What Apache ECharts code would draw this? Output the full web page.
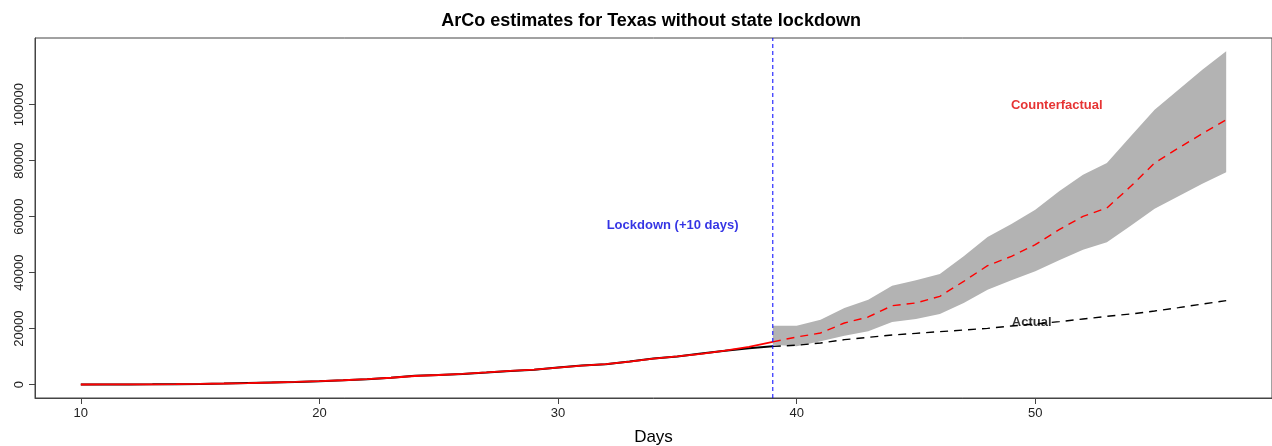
<!DOCTYPE html>
<html><head><meta charset="utf-8">
<script src="https://cdn.jsdelivr.net/npm/echarts@6/dist/echarts.min.js"></script>
<style>html,body{margin:0;padding:0;background:#fff}#c{width:1272px;height:446px}</style>
</head><body><div id="c"></div>
<script>
// ---- data ----
const preDays = [10,11,12,13,14,15,16,17,18,19,20,21,22,23,24,25,26,27,28,29,30,31,32,33,34,35,36,37,38,39];
const preActual = [57,72,85,110,173,260,394,566,758,975,1229,1563,1937,2455,3147,3426,3809,4355,4907,5330,6110,6812,7276,8262,9353,10063,11171,12100,13000,13690];
const preCounterfactual = [60,80,100,130,190,280,410,580,770,990,1250,1580,1960,2470,3100,3450,3850,4380,4920,5380,6100,6780,7350,8250,9300,10100,11000,12150,13500,15300];
const postDays = [39,40,41,42,43,44,45,46,47,48,49,50,51,52,53,54,55,56,57,58];
const postActual = [13690,14090,14880,16070,16900,17740,18330,18930,19520,20120,20950,21670,22500,23450,24400,25240,26310,27500,28810,30000];
const postCounterfactual = [15300,17020,18450,22020,24170,28210,29170,31550,36900,42500,45830,50000,55360,60120,63100,70830,79170,84520,89640,94640];
const bandLower = [14290,13690,15480,17500,19050,22380,23450,25240,29170,33930,37260,40480,44400,48210,50830,56790,62860,67260,71790,75830];
const bandUpper = [21070,21070,23200,27380,30360,35360,37260,39520,45830,52740,57380,62500,69050,75000,79170,88690,98210,105360,112500,119050];
const lockdownDay = 39;
const xTicks = [10,20,30,40,50];
const yTicks = [0,20000,40000,60000,80000,100000];
const titleText = 'ArCo estimates for Texas without state lockdown';
const xAxisName = 'Days';
const annotationTexts = ['Lockdown (+10 days)', 'Counterfactual', 'Actual'];
const annotationAnchors = [[34.8, 57000], [50.9, 99700], [49.85, 22100]];

// ---- ranges (R-style 4% extension) ----
const xMinData = Math.min(...preDays), xMaxData = Math.max(...postDays);
const xPad = (xMaxData - xMinData) * 0.04;
const yMaxData = Math.max(...bandUpper), yMinData = 0;
const yPad = (yMaxData - yMinData) * 0.04;
const yLo = yMinData - yPad, yHi = yMaxData + yPad;

const zip = (xs, ys) => xs.map((x, i) => [x, ys[i]]);
const font = '"Liberation Sans", Arial, Helvetica, sans-serif';
const annColors = ['#0000DD', '#E00000', '#000000'];

const chart = echarts.init(document.getElementById('c'), null, {renderer: 'canvas'});
chart.setOption({
  animation: false,
  backgroundColor: '#fff',
  title: {
    text: titleText, left: 646, top: 7, textAlign: 'center',
    textStyle: {fontFamily: font, fontSize: 18, fontWeight: 'bold', color: '#000'}
  },
  grid: {left: 35, right: 0, top: 38, bottom: 48, containLabel: false, outerBoundsMode: 'none',
         show: true, borderColor: '#444', borderWidth: 1, backgroundColor: 'transparent'},
  xAxis: {
    type: 'value', min: xMinData - xPad, max: xMaxData + xPad,
    name: xAxisName, nameLocation: 'middle', nameGap: 31,
    nameTextStyle: {fontFamily: font, fontSize: 17, color: '#000'},
    axisLine: {show: true, onZero: false, lineStyle: {color: '#444', width: 1}},
    axisTick: {show: true, length: 6, lineStyle: {color: '#444'}, customValues: xTicks},
    axisLabel: {fontFamily: font, fontSize: 13, color: '#222', margin: 9, customValues: xTicks},
    splitLine: {show: false}
  },
  yAxis: {
    type: 'value', min: yLo, max: yHi,
    axisLine: {show: true, onZero: false, lineStyle: {color: '#444', width: 1}},
    axisTick: {show: true, length: 6, lineStyle: {color: '#444'}, customValues: yTicks},
    axisLabel: {fontFamily: font, fontSize: 13, color: '#222', rotate: 90, margin: 9,
                customValues: yTicks, formatter: v => String(v)},
    splitLine: {show: false}
  },
  series: [
    {
      type: 'custom', silent: true, z: 1,
      data: [[lockdownDay, 0]],
      renderItem: (params, api) => {
        const pts = [];
        for (let i = 0; i < postDays.length; i++) pts.push(api.coord([postDays[i], bandUpper[i]]));
        for (let i = postDays.length - 1; i >= 0; i--) pts.push(api.coord([postDays[i], bandLower[i]]));
        return {type: 'polygon', shape: {points: pts}, style: {fill: '#B3B3B3', stroke: null}};
      }
    },
    {type: 'line', data: zip(preDays, preActual), symbol: 'none', z: 3,
     lineStyle: {color: '#000', width: 2}},
    {type: 'line', data: zip(postDays, postActual), symbol: 'none', z: 3,
     lineStyle: {color: '#000', width: 1.4, type: [8, 6]}},
    {type: 'line', data: zip(preDays, preCounterfactual), symbol: 'none', z: 4,
     lineStyle: {color: '#FF0000', width: 1.8}},
    {type: 'line', data: zip(postDays, postCounterfactual), symbol: 'none', z: 4,
     lineStyle: {color: '#FF0000', width: 1.4, type: [8, 6]}},
    {type: 'line', data: [[lockdownDay, yLo], [lockdownDay, yHi]], symbol: 'none', z: 5, silent: true,
     lineStyle: {color: '#0000FF', width: 1, type: [4, 3]}},
    {
      type: 'scatter', z: 6, symbolSize: 0, silent: true,
      data: annotationAnchors.map((p, i) => ({
        value: p,
        label: {
          show: true, position: 'inside', formatter: annotationTexts[i],
          fontFamily: font, fontSize: 13, fontWeight: 'bold', color: annColors[i]
        }
      }))
    }
  ]
});
</script>
</body></html>
